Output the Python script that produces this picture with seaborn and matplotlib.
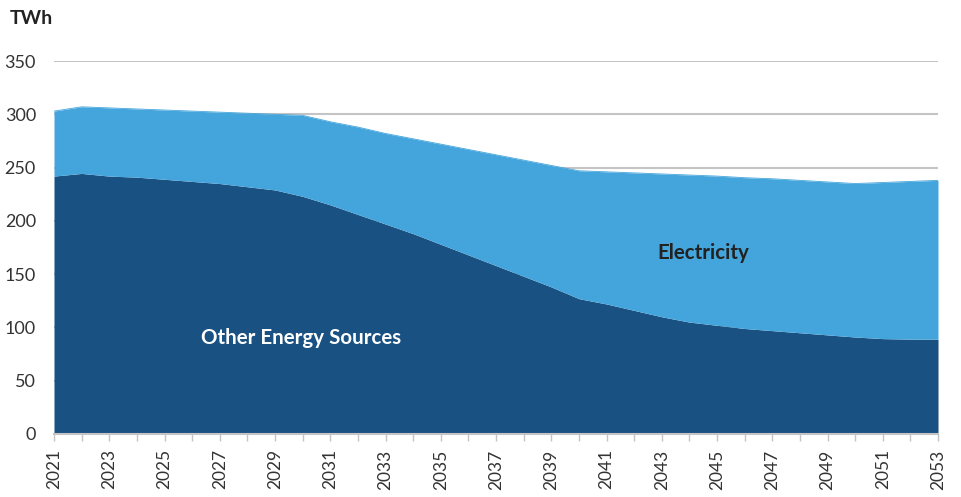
import numpy as np
import pandas as pd
import matplotlib
matplotlib.use("Agg")
import matplotlib.pyplot as plt
import seaborn as sns

years = list(range(2021, 2054))
total = [303, 307, 306, 305, 304, 303, 302, 301, 300, 299,
         293, 288, 282, 277, 272, 267, 262, 257, 252, 247,
         246, 245, 244, 243, 242, 240.5, 239.5, 238, 236.5, 235,
         236, 237, 238]
other = [242, 244.5, 242, 241, 239, 237, 235, 232, 229, 223,
         215, 206, 197, 188, 178, 168, 158, 148, 138, 127,
         122, 116, 110, 105, 102, 99, 97, 95, 93, 91,
         89.5, 89, 89]
electricity = [t - o for t, o in zip(total, other)]

df = pd.DataFrame({"year": years, "Other Energy Sources": other, "Electricity": electricity})

sns.set_theme(style="white")
plt.rcParams['font.family'] = ['Lato', 'DejaVu Sans']

fig = plt.figure(figsize=(9.62, 4.97), dpi=100)
ax = fig.add_axes([54/962, 63/497, (938-54)/962, (434-61)/497])

dark = "#195183"
light = "#44a5dc"

ax.set_axisbelow(True)
ax.yaxis.grid(True, color="#c4c4c4", linewidth=1.5)
ax.stackplot(df["year"], df["Other Energy Sources"], df["Electricity"],
             colors=[dark, light], linewidth=0, zorder=2)
sns.lineplot(x=df["year"], y=df["Other Energy Sources"] + df["Electricity"],
             ax=ax, color=light, linewidth=0.6, zorder=3)

ax.set_xlim(2021, 2053)
ax.set_ylim(0, 350)
ax.set_yticks(range(0, 351, 50))
ax.set_xticks(years)
ax.set_xticklabels([str(y) if (y - 2021) % 2 == 0 else "" for y in years],
                   rotation=90, fontsize=12.5, color="#333333")
ax.tick_params(axis="y", length=0, labelsize=13, labelcolor="#333333", pad=13)
ax.tick_params(axis="x", length=5, width=1, color="#c4c4c4", bottom=True, pad=6)
ax.set_xlabel("")
ax.set_ylabel("")

for s in ["top", "right", "left"]:
    ax.spines[s].set_visible(False)
ax.spines["bottom"].set_color("#c4c4c4")
ax.spines["bottom"].set_linewidth(1.5)
ax.spines["bottom"].set_zorder(4)

ax.text(2029.95, 90, "Other Energy Sources", color="white", fontsize=14.8,
        fontweight="bold", ha="center", va="center", zorder=5)
ax.text(2044.5, 170, "Electricity", color="#222222", fontsize=14.8,
        fontweight="bold", ha="center", va="center", zorder=5)
fig.text(10/962, 1 - 18/497, "TWh", fontsize=14, fontweight="bold",
         color="#222222", ha="left", va="center")

fig.savefig("out.png", dpi=100)
